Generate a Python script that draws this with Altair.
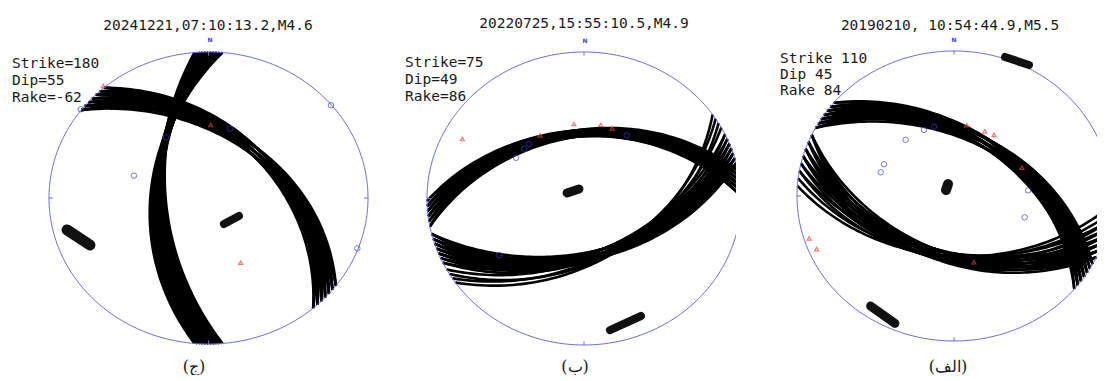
import numpy as np
import pandas as pd
import altair as alt

# ---------------- data ----------------
TITLES = ["20241221,07:10:13.2,M4.6", "20220725,15:55:10.5,M4.9", "20190210, 10:54:44.9,M5.5"]
PARAMS = ["Strike=180\nDip=55\nRake=-62", "Strike=75\nDip=49\nRake=86", "Strike 110\nDip 45\nRake 84"]
CAPTIONS = ["(ج)", "(ب)", "(الف)"]

# nodal-plane solutions, paired (strike[i], dip[i]) – panel ج
J_A_STRIKE = [175, 175, 176, 176, 177, 177, 178, 178, 179, 179, 180, 180, 180,
              181, 181, 182, 182, 183, 183, 184, 184, 185, 185]
J_A_DIP = [58, 60, 57, 59, 56, 58.5, 55.5, 58, 55, 57, 53, 55, 57,
           54, 56, 53, 55, 52, 54, 51, 53, 50, 52]
J_B_STRIKE = [307, 307, 307, 309, 309, 309, 311, 311, 311, 313, 313, 313,
              315, 315, 315, 317, 317, 317, 319, 319, 319]
J_B_DIP = [41, 43.5, 46, 41, 43.5, 46, 41, 43.5, 46, 41, 43.5, 46,
           41, 43.5, 46, 41, 43.5, 46, 41, 43.5, 46]
# panel ب
B_A_STRIKE = [55, 57, 59, 61, 64, 64, 66, 66, 68, 68, 68, 70, 70, 70, 72, 72, 72, 74, 74, 74, 76, 76, 76]
B_A_DIP = [45, 47, 45, 48, 46, 50, 46, 50, 45, 47.5, 50, 45, 47.5, 50, 45, 47.5, 50, 45, 47.5, 50, 45, 47.5, 50]
B_B_STRIKE = [259, 259, 259, 261, 261, 261, 263, 263, 263, 265, 265, 265, 267, 267, 267, 269, 269]
B_B_DIP = [40, 42, 44, 40, 42, 44, 40, 42, 44, 40, 42, 44, 40, 42, 44, 41, 43]
# panel الف
A_A_STRIKE = [94, 97, 100, 100, 103, 103, 106, 106, 106, 109, 109, 109, 112, 112, 112, 115, 115, 115]
A_A_DIP = [45, 45, 43, 47, 43, 47, 42, 45, 48, 42, 45, 48, 42, 45, 48, 42, 45, 48]
A_B_STRIKE = [298, 298, 298, 300, 300, 300, 302, 302, 302, 304, 304, 304, 306, 306, 306, 308, 308, 308, 310, 310]
A_B_DIP = [42, 45, 48, 42, 45, 48, 42, 45, 48, 42, 45, 48, 42, 45, 48, 42, 45, 48, 43, 46]

# polarity markers (projected position in units of the net radius)
J_CIRC_U = [-0.801, -0.266, 0.135, -0.467, 0.768, 0.933]
J_CIRC_V = [0.608, 0.416, 0.475, 0.153, 0.635, -0.345]
J_TRI_U = [-0.660, 0.014, 0.202]
J_TRI_V = [0.767, 0.500, -0.443]

B_CIRC_U = [-0.433, -0.380, -0.350, 0.272, -0.539]
B_CIRC_V = [0.278, 0.338, 0.372, 0.431, -0.386]
B_TRI_U = [-0.775, -0.280, -0.064, 0.106, 0.180]
B_TRI_V = [0.406, 0.431, 0.509, 0.502, 0.479]

A_CIRC_U = [-0.308, -0.191, -0.127, -0.446, -0.467, 0.473, 0.450]
A_CIRC_V = [0.388, 0.455, 0.478, 0.219, 0.163, 0.039, -0.147]
A_TRI_U = [0.081, 0.196, 0.255, 0.433, -0.922, -0.875, 0.127]
A_TRI_V = [0.488, 0.446, 0.421, 0.195, -0.292, -0.366, -0.457]

# P / T axis clusters: start (u1,v1), end (u2,v2), thickness
J_BLOB_U1 = [-0.887, 0.097]
J_BLOB_V1 = [-0.219, -0.178]
J_BLOB_U2 = [-0.743, 0.191]
J_BLOB_V2 = [-0.322, -0.123]
J_BLOB_W = [11, 8]

B_BLOB_U1 = [-0.108, 0.166]
B_BLOB_V1 = [0.038, -0.898]
B_BLOB_U2 = [-0.032, 0.363]
B_BLOB_V2 = [0.065, -0.802]
B_BLOB_W = [9, 8]

A_BLOB_U1 = [-0.051, -0.531, 0.325]
A_BLOB_V1 = [0.041, -0.759, 0.959]
A_BLOB_U2 = [-0.038, -0.376, 0.478]
A_BLOB_V2 = [0.083, -0.878, 0.903]
A_BLOB_W = [10, 9, 8]

# net ticks (azimuths)
TICK_AZ = [0, 90, 180, 270]

# ---------------- layout (pixels) ----------------
H = 365
LAYOUT = [
    dict(x0=8, w=363, cx=208.5, cy=198.0, rx=159.5, ry=146.0,
         title=(200, 17.5), params=(4, 49.3), n=(202, 32), cap=(186, 359)),
    dict(x0=371, w=365, cx=584.0, cy=198.5, rx=157.0, ry=146.5,
         title=(213, 16), params=(34, 47.7), n=(214, 33), cap=(204, 359)),
    dict(x0=736, w=361, cx=954.0, cy=196.0, rx=157.0, ry=145.0,
         title=(214, 18.3), params=(44, 44.3), n=(218, 32), cap=(212, 359)),
]

BLUE_NET = "#6b6bd0"
BLUE_MK = "#3b3bc8"
RED_MK = "#e0463c"
MONO = "DejaVu Sans Mono"


def great_circle(strike, dip, n=91):
    s = np.radians(strike)
    d = np.radians(dip)
    t = np.radians(np.linspace(0.0, 180.0, n))
    sv = np.array([np.cos(s), np.sin(s), 0.0])
    dv = np.array([np.cos(s + np.pi / 2) * np.cos(d), np.sin(s + np.pi / 2) * np.cos(d), np.sin(d)])
    v = np.outer(np.cos(t), sv) + np.outer(np.sin(t), dv)
    nn, ee, dd = v[:, 0], v[:, 1], v[:, 2]
    return ee / (1.0 + dd), nn / (1.0 + dd)


def bands(planes):
    rows = []
    lid = 0
    for strikes, dips in planes:
        for s, d in zip(strikes, dips):
            u, v = great_circle(s, d)
            for k in range(len(u)):
                rows.append((lid, k, u[k], v[k]))
            lid += 1
    return pd.DataFrame(rows, columns=["id", "k", "u", "v"])


def net_outline():
    a = np.radians(np.linspace(0, 360, 361))
    return pd.DataFrame({"k": range(len(a)), "u": np.sin(a), "v": np.cos(a)})


def net_ticks():
    rows = []
    for i, az in enumerate(TICK_AZ):
        a = np.radians(az)
        for k, r in enumerate([0.975, 1.0]):
            rows.append((i, k, r * np.sin(a), r * np.cos(a)))
    return pd.DataFrame(rows, columns=["id", "k", "u", "v"])


def blobs(u1, v1, u2, v2, w):
    rows = []
    for i in range(len(u1)):
        rows.append((i, 0, u1[i], v1[i], w[i]))
        rows.append((i, 1, u2[i], v2[i], w[i]))
    return pd.DataFrame(rows, columns=["id", "k", "u", "v", "w"])


PANELS = [
    dict(planes=[(J_A_STRIKE, J_A_DIP), (J_B_STRIKE, J_B_DIP)],
         circ=(J_CIRC_U, J_CIRC_V), tri=(J_TRI_U, J_TRI_V),
         blob=(J_BLOB_U1, J_BLOB_V1, J_BLOB_U2, J_BLOB_V2, J_BLOB_W)),
    dict(planes=[(B_A_STRIKE, B_A_DIP), (B_B_STRIKE, B_B_DIP)],
         circ=(B_CIRC_U, B_CIRC_V), tri=(B_TRI_U, B_TRI_V),
         blob=(B_BLOB_U1, B_BLOB_V1, B_BLOB_U2, B_BLOB_V2, B_BLOB_W)),
    dict(planes=[(A_A_STRIKE, A_A_DIP), (A_B_STRIKE, A_B_DIP)],
         circ=(A_CIRC_U, A_CIRC_V), tri=(A_TRI_U, A_TRI_V),
         blob=(A_BLOB_U1, A_BLOB_V1, A_BLOB_U2, A_BLOB_V2, A_BLOB_W)),
]


def make_panel(i):
    L = LAYOUT[i]
    P = PANELS[i]
    xdom = [(L["x0"] - L["cx"]) / L["rx"], (L["x0"] + L["w"] - L["cx"]) / L["rx"]]
    ydom = [(L["cy"] - 8 - H) / L["ry"], (L["cy"] - 8) / L["ry"]]
    X = alt.X("u:Q", scale=alt.Scale(domain=xdom, nice=False, zero=False), axis=None)
    Y = alt.Y("v:Q", scale=alt.Scale(domain=ydom, nice=False, zero=False), axis=None)

    band = alt.Chart(bands(P["planes"])).mark_line(
        color="black", strokeWidth=2.6, clip=True).encode(x=X, y=Y, detail="id:N", order="k:Q")
    outline = alt.Chart(net_outline()).mark_line(
        color=BLUE_NET, strokeWidth=1, clip=True).encode(x=X, y=Y, order="k:Q")
    ticks = alt.Chart(net_ticks()).mark_line(
        color=BLUE_NET, strokeWidth=1, clip=True).encode(x=X, y=Y, detail="id:N", order="k:Q")
    bl = alt.Chart(blobs(*P["blob"])).mark_line(
        color="#111111", strokeCap="round", clip=True).encode(
        x=X, y=Y, detail="id:N", order="k:Q", strokeWidth=alt.StrokeWidth("w:Q", scale=None))
    circ = alt.Chart(pd.DataFrame({"u": P["circ"][0], "v": P["circ"][1]})).mark_point(
        shape="circle", filled=False, color=BLUE_MK, size=30, strokeWidth=1).encode(x=X, y=Y)
    tri = alt.Chart(pd.DataFrame({"u": P["tri"][0], "v": P["tri"][1]})).mark_point(
        shape="triangle-up", filled=False, color=RED_MK, size=16, strokeWidth=1.2).encode(x=X, y=Y)

    one = pd.DataFrame({"t": [0]})
    title = alt.Chart(one).mark_text(
        text=TITLES[i], font=MONO, fontSize=14.5, color="#1a1a1a", align="center", baseline="middle"
    ).encode(x=alt.value(L["title"][0]), y=alt.value(L["title"][1]))
    params = alt.Chart(one).mark_text(
        text=PARAMS[i], font=MONO, fontSize=14.5, color="#1a1a1a", align="left", baseline="top",
        lineBreak="\n", lineHeight=17 if i < 2 else 16
    ).encode(x=alt.value(L["params"][0]), y=alt.value(L["params"][1]))
    nlab = alt.Chart(one).mark_text(
        text="N", font="DejaVu Sans", fontSize=6, fontWeight="bold", color=BLUE_MK,
        align="center", baseline="middle"
    ).encode(x=alt.value(L["n"][0]), y=alt.value(L["n"][1]))
    cap = alt.Chart(one).mark_text(
        text=CAPTIONS[i], font="DejaVu Serif", fontSize=16, color="#1a1a1a",
        align="center", baseline="middle"
    ).encode(x=alt.value(L["cap"][0]), y=alt.value(L["cap"][1]))

    return alt.layer(band, outline, ticks, bl, circ, tri, title, params, nlab, cap).properties(
        width=L["w"], height=H)


chart = alt.hconcat(*[make_panel(i) for i in range(3)], spacing=0).properties(
    padding=0, background="white").configure_view(stroke=None)

chart.save("out.html", embed_options={"renderer": "svg", "actions": False})
